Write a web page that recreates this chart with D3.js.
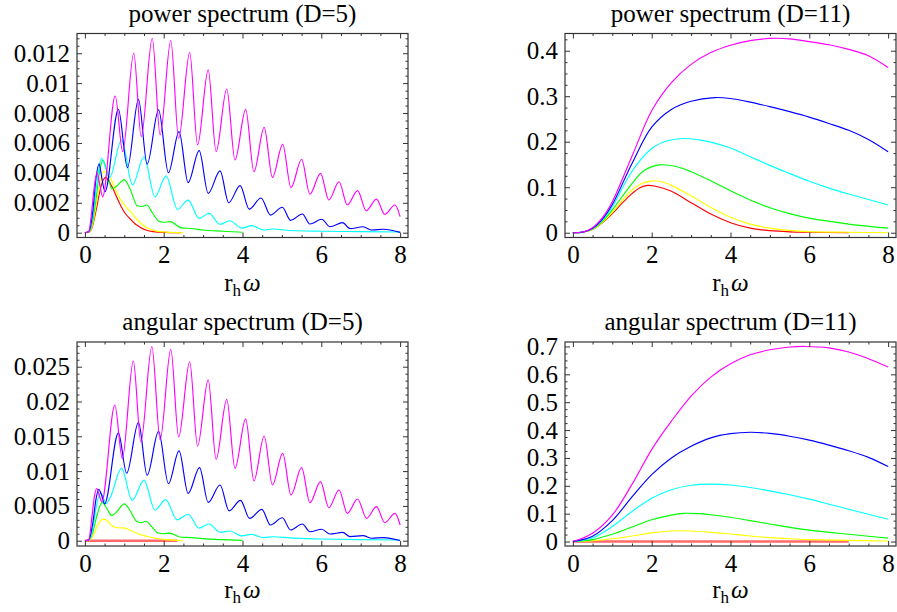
<!DOCTYPE html>
<html><head><meta charset="utf-8">
<script src="https://cdn.jsdelivr.net/npm/d3@7"></script>
<style>
body{margin:0;background:#fff}
svg{display:block}
text{font-family:"Liberation Serif","Times New Roman",serif;fill:#000}
</style>
</head><body>
<svg id="c" width="897" height="612"></svg>
<script>
// ---------------- data ----------------
const xTickValues = [0, 2, 4, 6, 8];
const xTickLabels = ["0", "2", "4", "6", "8"];
const titles = ["power spectrum (D=5)", "power spectrum (D=11)", "angular spectrum (D=5)", "angular spectrum (D=11)"];
const seriesColors = ["#ff0000", "#ffff00", "#00ff00", "#00ffff", "#0000ff", "#ff00ff"];

const p5YTickLabels = ["0", "0.002", "0.004", "0.006", "0.008", "0.01", "0.012"];
const p11YTickLabels = ["0", "0.1", "0.2", "0.3", "0.4"];
const a5YTickLabels = ["0", "0.005", "0.01", "0.015", "0.02", "0.025"];
const a11YTickLabels = ["0", "0.1", "0.2", "0.3", "0.4", "0.5", "0.6", "0.7"];

// power spectrum, D=5
const p5Red = [[0,0],[0.1,0.00003],[0.2,0.0005],[0.3,0.0017],[0.4,0.003],[0.52,0.0037],[0.62,0.0034],[0.72,0.0029],[0.82,0.0023],[0.92,0.00175],[1.02,0.0013],[1.14,0.00095],[1.27,0.0006],[1.4,0.00037],[1.55,0.00018],[1.73,0.00007],[2.0,0.00002],[2.45,0]];
const p5Yellow = [[0,0],[0.1,0.00004],[0.2,0.0006],[0.3,0.0021],[0.4,0.0036],[0.48,0.0041],[0.56,0.004],[0.66,0.0036],[0.76,0.003],[0.86,0.0024],[0.96,0.002],[1.06,0.00168],[1.16,0.0014],[1.3,0.00095],[1.45,0.00055],[1.6,0.0003],[1.8,0.00012],[2.05,0.00004],[2.49,0]];
const p5Green = [[0,0],[0.1,0.00005],[0.2,0.0008],[0.3,0.0026],[0.38,0.0042],[0.46,0.00485],[0.56,0.0041],[0.68,0.00295],[0.8,0.0031],[1.0,0.00355],[1.15,0.0029],[1.33,0.0018],[1.45,0.00175],[1.57,0.00185],[1.72,0.0013],[1.86,0.0008],[2.0,0.0007],[2.16,0.00074],[2.45,0.00032],[2.7,0.00028],[3.0,0.00018],[3.5,0.0001],[4.0,0.00003]];
const p5Cyan = [[0,0],[0.1,0.00006],[0.2,0.0011],[0.3,0.0032],[0.42,0.00497],[0.52,0.0044],[0.63,0.0037],[0.93,0.0062],[1.21,0.0032],[1.5,0.00507],[1.78,0.0024],[2.06,0.0038],[2.35,0.00156],[2.62,0.00218],[2.9,0.00096],[3.15,0.00129],[3.43,0.00056],[3.68,0.0008],[3.98,0.00031],[4.23,0.00047],[4.53,0.00018],[4.78,0.00025],[5.2,0.00015],[6,0.0001],[7,0.00007],[8,0.00005]];
const p5Blue = [[0,0],[0.1,0.00008],[0.2,0.0014],[0.28,0.0036],[0.36,0.0046],[0.44,0.0035],[0.51,0.00274],[0.85,0.00825],[1.08,0.00435],[1.36,0.00892],[1.58,0.00459],[1.87,0.00821],[2.12,0.00401],[2.39,0.00676],[2.62,0.00335],[2.9,0.00549],[3.13,0.00263],[3.43,0.00413],[3.65,0.00201],[3.94,0.00315],[4.17,0.00158],[4.47,0.00232],[4.71,0.00118],[5.01,0.0017],[5.22,0.00083],[5.52,0.00125],[5.71,0.00058],[6.01,0.0009],[6.22,0.0004],[6.54,0.00067],[6.73,0.00027],[7.06,0.0004],[7.28,0.00018],[7.57,0.00023],[8,0.00002]];
const p5Magenta = [[0,0],[0.1,0.0001],[0.18,0.0016],[0.24,0.0031],[0.31,0.004],[0.38,0.0032],[0.45,0.0024],[0.77,0.00914],[0.96,0.00542],[1.24,0.012],[1.43,0.00642],[1.71,0.013],[1.91,0.00654],[2.18,0.01285],[2.38,0.00631],[2.66,0.01204],[2.86,0.00587],[3.13,0.01089],[3.33,0.00542],[3.6,0.00961],[3.81,0.00486],[4.08,0.00825],[4.29,0.00408],[4.55,0.00704],[4.76,0.0037],[5.02,0.00591],[5.23,0.00301],[5.5,0.00491],[5.71,0.00257],[5.98,0.00397],[6.19,0.00219],[6.45,0.00341],[6.66,0.00185],[6.92,0.00281],[7.14,0.00147],[7.4,0.00225],[7.61,0.00123],[7.87,0.00185],[8.0,0.00107]];

// power spectrum, D=11
const p11Red = [[0,0],[0.25,0.001],[0.5,0.007],[0.75,0.022],[1,0.042],[1.25,0.065],[1.5,0.086],[1.7,0.099],[1.9,0.104],[2.1,0.102],[2.5,0.091],[3,0.066],[3.5,0.041],[4,0.022],[4.5,0.01],[5,0.0045],[5.5,0.002],[6,0.001],[7,0]];
const p11Yellow = [[0,0],[0.25,0.001],[0.5,0.007],[0.75,0.023],[1,0.045],[1.5,0.094],[1.75,0.108],[2,0.114],[2.25,0.112],[2.5,0.104],[3,0.081],[3.5,0.056],[4,0.034],[4.5,0.019],[5,0.01],[5.5,0.005],[6,0.0025],[7,0.001],[8,0]];
const p11Green = [[0,0],[0.25,0.0012],[0.5,0.008],[0.75,0.025],[1,0.05],[1.5,0.108],[1.8,0.136],[2.2,0.149],[2.6,0.146],[3,0.134],[3.5,0.114],[4,0.092],[4.5,0.072],[5,0.055],[5.5,0.042],[6,0.032],[7,0.019],[8,0.01]];
const p11Cyan = [[0,0],[0.25,0.0013],[0.5,0.009],[0.75,0.028],[1,0.057],[1.5,0.135],[2,0.185],[2.4,0.202],[2.8,0.207],[3.2,0.204],[3.5,0.199],[4,0.186],[4.5,0.167],[5,0.148],[5.5,0.13],[6,0.113],[6.5,0.098],[7,0.085],[7.5,0.073],[8,0.061]];
const p11Blue = [[0,0],[0.25,0.0014],[0.5,0.01],[0.75,0.03],[1,0.062],[1.5,0.152],[2,0.232],[2.5,0.271],[3,0.289],[3.6,0.297],[4,0.295],[4.5,0.287],[5,0.277],[5.5,0.266],[6,0.254],[6.5,0.24],[7,0.225],[7.5,0.205],[8,0.178]];
const p11Magenta = [[0,0],[0.25,0.0015],[0.5,0.011],[0.75,0.033],[1,0.068],[1.5,0.168],[2,0.268],[2.5,0.33],[3,0.37],[3.5,0.396],[4,0.412],[4.5,0.422],[5,0.427],[5.5,0.426],[6,0.42],[6.5,0.413],[7,0.403],[7.5,0.389],[8,0.363]];

// angular spectrum, D=5
const a5Red = [[0,0],[2.35,0]];
const a5Yellow = [[0,0],[0.1,0.00005],[0.2,0.0006],[0.3,0.0019],[0.4,0.0029],[0.47,0.0031],[0.56,0.0029],[0.66,0.0023],[0.78,0.0019],[0.9,0.00185],[1.02,0.0018],[1.15,0.0015],[1.31,0.0011],[1.45,0.0008],[1.6,0.0006],[1.8,0.00035],[2.0,0.0002],[2.25,0.00008],[2.49,0]];
const a5Green = [[0,0],[0.1,0.0001],[0.2,0.0012],[0.3,0.0035],[0.44,0.0055],[0.56,0.0046],[0.68,0.0036],[0.8,0.0041],[1.0,0.0053],[1.15,0.0043],[1.31,0.0028],[1.42,0.0026],[1.55,0.0028],[1.7,0.002],[1.86,0.0011],[2.0,0.001],[2.14,0.0011],[2.45,0.0005],[2.7,0.00045],[3.0,0.0003],[3.5,0.00015],[4.0,0.00005]];
const a5Cyan = [[0,0],[0.1,0.0001],[0.2,0.0018],[0.3,0.0052],[0.4,0.0069],[0.47,0.0062],[0.53,0.0053],[0.65,0.0063],[0.93,0.0104],[1.2,0.0058],[1.5,0.0087],[1.78,0.0044],[2.05,0.0059],[2.34,0.003],[2.62,0.0038],[2.9,0.0018],[3.15,0.0024],[3.43,0.0012],[3.68,0.0014],[3.98,0.0007],[4.23,0.0009],[4.53,0.00045],[4.78,0.00057],[5.2,0.0004],[6,0.00025],[7,0.00015],[8,0.0001]];
const a5Blue = [[0,0],[0.1,0.00012],[0.2,0.0025],[0.28,0.0059],[0.35,0.0074],[0.42,0.0066],[0.5,0.0053],[0.85,0.0155],[1.06,0.0097],[1.36,0.017],[1.58,0.0094],[1.87,0.0157],[2.12,0.0082],[2.39,0.0129],[2.62,0.0068],[2.91,0.0105],[3.13,0.0055],[3.43,0.008],[3.66,0.0043],[3.95,0.0058],[4.18,0.0032],[4.49,0.0045],[4.71,0.00226],[5.01,0.0033],[5.22,0.00154],[5.52,0.0024],[5.71,0.00129],[6.01,0.00164],[6.22,0.00096],[6.54,0.0012],[6.73,0.00058],[7.06,0.00072],[7.28,0.00035],[7.57,0.00045],[8,0.00003]];
const a5Magenta = [[0,0],[0.1,0.00015],[0.18,0.0035],[0.24,0.0063],[0.3,0.0075],[0.36,0.0066],[0.43,0.0056],[0.76,0.0195],[0.95,0.0118],[1.23,0.0258],[1.42,0.0142],[1.7,0.0279],[1.91,0.0145],[2.18,0.0275],[2.38,0.0149],[2.66,0.0257],[2.86,0.0136],[3.13,0.0231],[3.33,0.0117],[3.6,0.0203],[3.81,0.0104],[4.08,0.0175],[4.29,0.0086],[4.55,0.01504],[4.76,0.008],[5.02,0.01255],[5.23,0.00657],[5.5,0.01049],[5.71,0.00546],[5.98,0.00848],[6.19,0.00474],[6.45,0.00728],[6.66,0.00393],[6.92,0.00599],[7.15,0.00321],[7.4,0.00489],[7.61,0.00259],[7.87,0.00393],[8.0,0.00226]];

// angular spectrum, D=11
const a11Red = [[0,0],[7,0]];
const a11Yellow = [[0,0],[0.5,0.003],[1,0.01],[1.5,0.02],[2,0.031],[2.5,0.038],[3,0.038],[3.5,0.033],[4,0.027],[4.5,0.02],[5,0.014],[5.5,0.01],[6,0.007],[7,0.004],[8,0.002]];
const a11Green = [[0,0],[0.5,0.007],[1,0.026],[1.5,0.052],[2,0.078],[2.5,0.095],[2.8,0.101],[3.2,0.1],[3.5,0.096],[4,0.087],[4.5,0.075],[5,0.063],[5.5,0.051],[6,0.041],[6.5,0.033],[7,0.026],[7.5,0.019],[8,0.012]];
const a11Cyan = [[0,0],[0.5,0.013],[1,0.054],[1.5,0.108],[2,0.155],[2.5,0.186],[3,0.202],[3.5,0.206],[4,0.203],[4.5,0.194],[5,0.182],[5.5,0.168],[6,0.152],[6.5,0.134],[7,0.116],[7.5,0.098],[8,0.08]];
const a11Blue = [[0,0],[0.5,0.019],[1,0.075],[1.5,0.16],[2,0.24],[2.5,0.3],[3,0.342],[3.5,0.372],[4,0.387],[4.5,0.392],[5,0.388],[5.5,0.378],[6,0.364],[6.5,0.346],[7,0.326],[7.5,0.302],[8,0.269]];
const a11Magenta = [[0,0],[0.5,0.03],[1,0.095],[1.5,0.205],[2,0.33],[2.5,0.432],[3,0.522],[3.5,0.59],[4,0.638],[4.5,0.67],[5,0.688],[5.5,0.698],[5.9,0.7],[6.5,0.695],[7,0.68],[7.5,0.656],[8,0.626]];

// ---------------- layout ----------------
const svg = d3.select("#c");
const FONT = 25;
const FAMILY = '"Liberation Serif","Times New Roman",serif';

const panels = [
  {left:77, right:408, top:33.5, bottom:237.5, yDomain:[-0.00032,0.01332], yLabels:p5YTickLabels, yMinor:0.0005,
   title:titles[0], titleY:22, xLabelY:291, series:[p5Red,p5Yellow,p5Green,p5Cyan,p5Blue,p5Magenta], flatRed:false, smooth:false},
  {left:565, right:896, top:33.5, bottom:237.5, yDomain:[-0.0105,0.4378], yLabels:p11YTickLabels, yMinor:0.025,
   title:titles[1], titleY:22, xLabelY:291, series:[p11Red,p11Yellow,p11Green,p11Cyan,p11Blue,p11Magenta], flatRed:false, smooth:true},
  {left:77, right:408, top:342, bottom:546, yDomain:[-0.00076,0.02855], yLabels:a5YTickLabels, yMinor:0.001,
   title:titles[2], titleY:330, xLabelY:598, series:[a5Red,a5Yellow,a5Green,a5Cyan,a5Blue,a5Magenta], flatRed:true, smooth:false},
  {left:565, right:896, top:342, bottom:546, yDomain:[-0.016,0.716], yLabels:a11YTickLabels, yMinor:0.025,
   title:titles[3], titleY:330, xLabelY:598, series:[a11Red,a11Yellow,a11Green,a11Cyan,a11Blue,a11Magenta], flatRed:true, smooth:true}
];

function range(a, b, step) {
  const out = [];
  const n = Math.round((b - a) / step);
  for (let i = 0; i <= n; i++) out.push(+(a + i * step).toFixed(6));
  return out;
}

panels.forEach(p => {
  const x = d3.scaleLinear().domain([-0.2, 8.2]).range([p.left, p.right]);
  const y = d3.scaleLinear().domain(p.yDomain).range([p.bottom, p.top]);
  const g = svg.append("g");
  const w = p.right - p.left, h = p.bottom - p.top;

  const cid = "clip" + p.left + "_" + p.top;
  svg.append("clipPath").attr("id", cid).append("rect")
    .attr("x", p.left).attr("y", p.top).attr("width", w).attr("height", h);

  const line = d3.line().x(d => x(d[0])).y(d => y(d[1]))
    .curve(p.smooth ? d3.curveCatmullRom.alpha(0.5) : d3.curveMonotoneX);
  const cg = g.append("g").attr("clip-path", `url(#${cid})`);
  p.series.forEach((s, i) => {
    const isFlat = p.flatRed && i === 0;
    cg.append("path").datum(s)
      .attr("d", line)
      .attr("fill", "none")
      .attr("stroke", isFlat ? "#ff6a6a" : seriesColors[i])
      .attr("stroke-width", isFlat ? 2.4 : 1.15)
      .attr("stroke-linejoin", "round");
  });

  const yVals = p.yLabels.map(Number);
  const yMinorVals = range(0, Math.floor(p.yDomain[1] / p.yMinor) * p.yMinor, p.yMinor).filter(v => !yVals.some(m => Math.abs(m - v) < 1e-9));
  const xMinorVals = range(0, 8, 0.5).filter(v => !xTickValues.includes(v));

  const styleAxis = sel => {
    sel.select(".domain").remove();
    sel.attr("font-family", null).attr("font-size", null);
    sel.selectAll("line").attr("stroke", "#333").attr("stroke-width", 1);
    sel.selectAll("text").style("font-size", FONT + "px").style("font-family", FAMILY).attr("fill", "#000");
  };

  g.append("g").attr("transform", `translate(0,${p.bottom})`)
    .call(d3.axisBottom(x).tickValues(xTickValues).tickFormat((d, i) => xTickLabels[i]).tickSizeInner(-5).tickSizeOuter(0).tickPadding(8))
    .call(styleAxis);
  g.append("g").attr("transform", `translate(0,${p.bottom})`)
    .call(d3.axisBottom(x).tickValues(xMinorVals).tickFormat("").tickSizeInner(-2.5).tickSizeOuter(0))
    .call(styleAxis);
  g.append("g").attr("transform", `translate(0,${p.top})`)
    .call(d3.axisTop(x).tickValues(xTickValues).tickFormat("").tickSizeInner(-5).tickSizeOuter(0))
    .call(styleAxis);
  g.append("g").attr("transform", `translate(0,${p.top})`)
    .call(d3.axisTop(x).tickValues(xMinorVals).tickFormat("").tickSizeInner(-2.5).tickSizeOuter(0))
    .call(styleAxis);
  g.append("g").attr("transform", `translate(${p.left},0)`)
    .call(d3.axisLeft(y).tickValues(yVals).tickFormat((d, i) => p.yLabels[i]).tickSizeInner(-5).tickSizeOuter(0).tickPadding(7))
    .call(styleAxis);
  g.append("g").attr("transform", `translate(${p.left},0)`)
    .call(d3.axisLeft(y).tickValues(yMinorVals).tickFormat("").tickSizeInner(-2.5).tickSizeOuter(0))
    .call(styleAxis);
  g.append("g").attr("transform", `translate(${p.right},0)`)
    .call(d3.axisRight(y).tickValues(yVals).tickFormat("").tickSizeInner(-5).tickSizeOuter(0))
    .call(styleAxis);
  g.append("g").attr("transform", `translate(${p.right},0)`)
    .call(d3.axisRight(y).tickValues(yMinorVals).tickFormat("").tickSizeInner(-2.5).tickSizeOuter(0))
    .call(styleAxis);

  g.append("rect").attr("x", p.left).attr("y", p.top).attr("width", w).attr("height", h)
    .attr("fill", "none").attr("stroke", "#333").attr("stroke-width", 1.2);

  g.append("text").attr("x", (p.left + p.right) / 2).attr("y", p.titleY)
    .attr("text-anchor", "middle").style("font-size", FONT + "px").style("font-family", FAMILY).text(p.title);

  const t = g.append("text").attr("x", (p.left + p.right) / 2).attr("y", p.xLabelY)
    .attr("text-anchor", "middle").style("font-size", FONT + "px").style("font-family", FAMILY);
  t.append("tspan").text("r");
  t.append("tspan").style("font-size", "17px").attr("dy", 5).text("h");
  t.append("tspan").attr("font-style", "italic").attr("dy", -5).attr("dx", 2).text("ω");
});
</script>
</body></html>
